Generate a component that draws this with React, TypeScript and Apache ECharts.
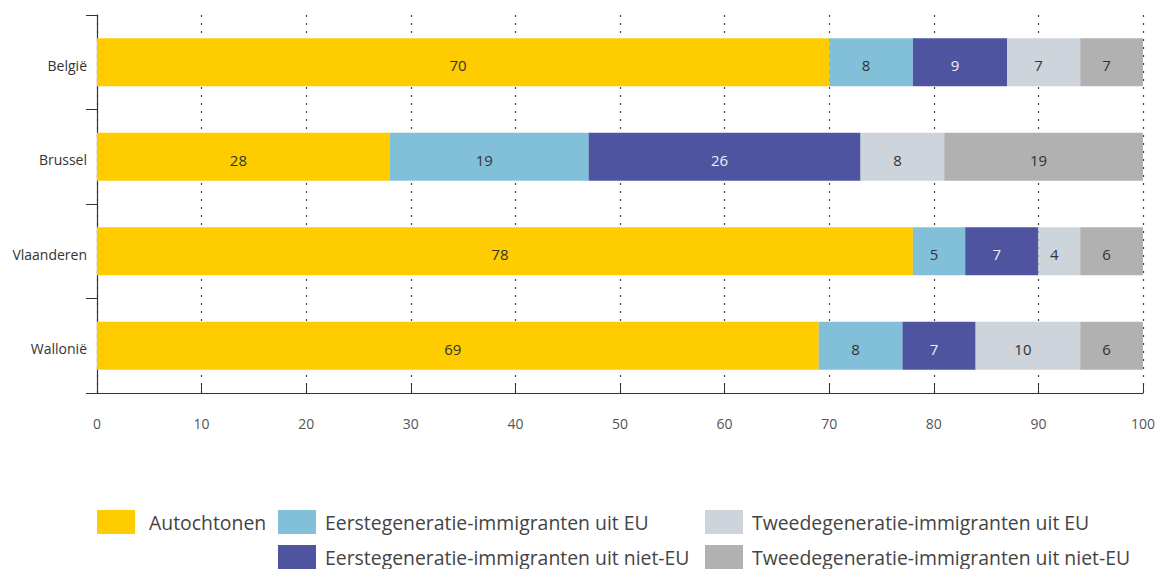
import React, { useEffect, useRef } from "react";
import * as echarts from "echarts";

const regions = ["België", "Brussel", "Vlaanderen", "Wallonië"];
const seriesNames = [
  "Autochtonen",
  "Eerstegeneratie-immigranten uit EU",
  "Eerstegeneratie-immigranten uit niet-EU",
  "Tweedegeneratie-immigranten uit EU",
  "Tweedegeneratie-immigranten uit niet-EU",
];
const autochtonen = [70, 28, 78, 69];
const eersteEU = [8, 19, 5, 8];
const eersteNietEU = [9, 26, 7, 7];
const tweedeEU = [7, 8, 4, 10];
const tweedeNietEU = [7, 19, 6, 6];
const xTicks = [0, 10, 20, 30, 40, 50, 60, 70, 80, 90, 100];

const colors = ["#FFCC00", "#82C0D9", "#4F54A1", "#CDD4DB", "#B1B1B1"];
const labelColors = ["#333333", "#333333", "#EEEEF5", "#333333", "#333333"];
const FONT = "'Open Sans', 'Noto Sans', sans-serif";

// legend positions: [left, top, text left padding]
const legendPos: [number, number, number][] = [
  [97, 510, 9],
  [278, 510, 4],
  [278, 545, 4],
  [705, 510, 4],
  [705, 545, 4],
];

export default function App() {
  const ref = useRef<HTMLDivElement>(null);
  useEffect(() => {
    if (!ref.current) return;
    const chart = echarts.init(ref.current, null, { renderer: "svg" });
    const values = [autochtonen, eersteEU, eersteNietEU, tweedeEU, tweedeNietEU];
    const series = seriesNames.map((name, i) => ({
      name,
      type: "bar",
      stack: "total",
      barWidth: "51%",
      data: values[i],
      itemStyle: { color: colors[i] },
      clip: true,
      label: {
        show: true,
        position: "inside",
        offset: [-5, 3],
        color: labelColors[i],
        fontSize: 15,
        fontFamily: FONT,
      },
    }));
    const legendText = { color: "#444", fontSize: 19.4, fontFamily: FONT };
    chart.setOption({
      animation: false,
      color: colors,
      grid: { left: 97, right: 15, top: 15, bottom: 176, containLabel: false },
      xAxis: {
        type: "value",
        min: 0,
        max: 100,
        interval: 10,
        axisLine: { show: true, lineStyle: { color: "#333", width: 1.2 } },
        axisTick: { show: true, inside: true, length: 10, lineStyle: { color: "#333" } },
        axisLabel: {
          margin: 23,
          color: "#555",
          fontSize: 14,
          fontFamily: FONT,
          formatter: (v: number) => (xTicks.includes(v) ? String(v) : ""),
        },
        splitLine: {
          show: true,
          lineStyle: { color: "#444", type: [2, 6], width: 1.2 },
        },
      },
      yAxis: {
        type: "category",
        inverse: true,
        data: regions,
        axisLine: { show: true, lineStyle: { color: "#333", width: 1.2 } },
        axisTick: { show: true, length: 11, lineStyle: { color: "#333" } },
        axisLabel: {
          margin: 10,
          color: "#333",
          fontSize: 14,
          fontFamily: FONT,
          formatter: "{a|{value}}",
          rich: {
            a: {
              color: "#333",
              fontSize: 14,
              fontFamily: FONT,
              padding: [6, 0, 0, 0],
            },
          },
        },
      },
      legend: seriesNames.map((name, i) => ({
        data: [name],
        left: legendPos[i][0],
        top: legendPos[i][1],
        padding: 0,
        itemWidth: 38,
        itemHeight: 24,
        icon: "rect",
        textStyle: { ...legendText, padding: [0, 0, 0, legendPos[i][2]] },
      })),
      series,
    });
    return () => chart.dispose();
  }, []);
  return <div ref={ref} style={{ width: 1158, height: 569, position: "absolute", left: 0, top: 0 }} />;
}
